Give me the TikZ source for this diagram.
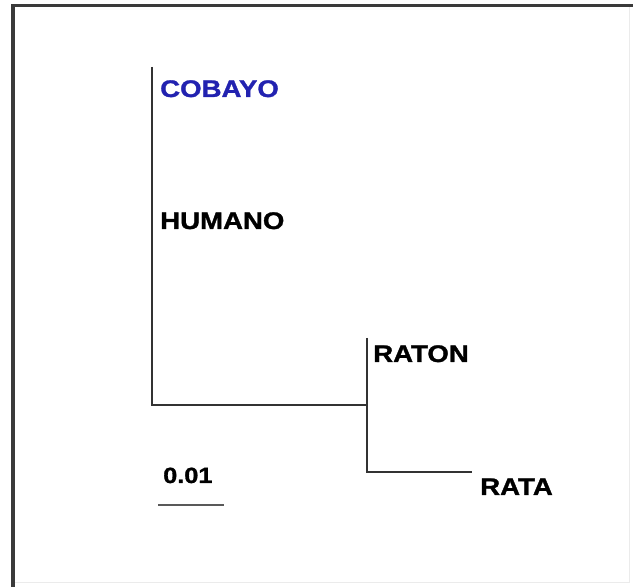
\documentclass[tikz,border=0pt]{standalone}
\usepackage{fontspec}
\setmainfont{Liberation Sans}[BoldFeatures={FakeBold=1.2}]
\usepackage{xcolor}
\usetikzlibrary{positioning, calc}
\definecolor{taxonblue}{HTML}{2222B0}
\definecolor{framegray}{HTML}{3A3A3A}
\tikzset{
  treeline/.style={
    line width=1.7pt, color=black!80
  },
  framerule/.style={
    line width=3.5pt, color=framegray
  },
  taxonlabel/.style={
    anchor=base west, inner sep=0pt, xscale=1.15,
    font=\fontsize{24}{28}\selectfont\bfseries
  },
  scalebar/.style={
    line width=2.8pt, color=black!65
  },
}

\begin{document}
\begin{tikzpicture}[x=1pt, y=1pt]
  % Page and frame
  \useasboundingbox (0,0) rectangle (633,587);
  \fill[white] (0,0) rectangle (633,587);
  \draw[color=black!8, line width=1pt] (629,583) -- (629,4) -- (15,4);
  \draw[framerule] (13,0) -- (13,581.5) -- (633,581.5);

  % Branch points
  \coordinate (top) at (152,520);
  \coordinate (root) at (152,182);
  \coordinate (murid) at (367,182);
  \coordinate (muridtop) at (367,249);
  \coordinate (muridbot) at (367,115);
  \coordinate (ratatip) at (472,115);

  % Branches
  \draw[treeline] (top) -- (root) -- (murid);
  \draw[treeline] (muridtop) -- (muridbot) -- (ratatip);

  % Taxa
  \node[taxonlabel, text=taxonblue] (cobayo) at (160,490) {COBAYO};
  \node[taxonlabel] (humano) at (160,358) {HUMANO};
  \node[taxonlabel] (raton) at (373,225) {RATON};
  \node[taxonlabel] (rata) at (480,92) {RATA};

  % Scale
  \node[taxonlabel, font=\fontsize{22}{26}\selectfont\bfseries] (scale) at (163,104) {0.01};
  \coordinate (barl) at (158,82);
  \coordinate (barr) at (224,82);
  \draw[scalebar] (barl) -- (barr);
\end{tikzpicture}
\end{document}
